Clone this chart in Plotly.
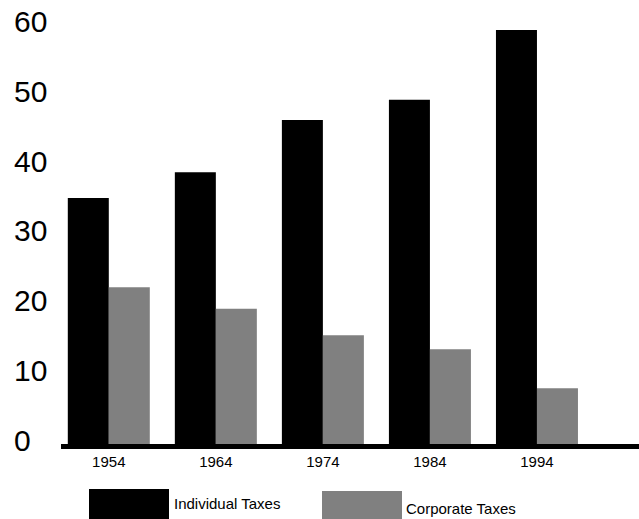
import plotly.graph_objects as go

# Tax receipts by decade (percent of federal revenue)
years = ["1954", "1964", "1974", "1984", "1994"]
individual_taxes = [35.3, 39.0, 46.5, 49.4, 59.4]
corporate_taxes = [22.5, 19.4, 15.6, 13.6, 8.0]
y_ticks = [0, 10, 20, 30, 40, 50, 60]

W, H = 639, 519
L, T, B = 61, 0, 75
plot_w = W - L
plot_h = H - T - B

FONT = "Liberation Sans, Arial, Helvetica, sans-serif"


def px_x(px):
    return (px - L) / plot_w


def px_y(py):
    return (T + plot_h - py) / plot_h


positions = list(range(len(years)))

fig = go.Figure()
fig.add_trace(go.Bar(x=positions, y=individual_taxes, name="Individual Taxes",
                     marker=dict(color="#000000", line=dict(width=0))))
fig.add_trace(go.Bar(x=positions, y=corporate_taxes, name="Corporate Taxes",
                     marker=dict(color="#808080", line=dict(width=0))))

# Left-aligned value labels for the y axis
annotations = []
for v in y_ticks:
    annotations.append(dict(
        x=px_x(12), xref="paper", xanchor="left",
        y=v, yref="y", yanchor="middle", yshift=4,
        text=str(v), showarrow=False,
        font=dict(family=FONT, size=30, color="#000000")))

# Legend drawn as swatches with captions below the axis
shapes = [
    dict(type="rect", xref="paper", yref="paper",
         x0=px_x(89), x1=px_x(169), y0=px_y(519), y1=px_y(489),
         fillcolor="#000000", line=dict(width=0)),
    dict(type="rect", xref="paper", yref="paper",
         x0=px_x(322), x1=px_x(402), y0=px_y(519), y1=px_y(491),
         fillcolor="#808080", line=dict(width=0)),
]
annotations.append(dict(x=px_x(172), xref="paper", xanchor="left",
                        y=px_y(503.5), yref="paper", yanchor="middle",
                        text="Individual Taxes", showarrow=False,
                        font=dict(family=FONT, size=15, color="#000000")))
annotations.append(dict(x=px_x(404), xref="paper", xanchor="left",
                        y=px_y(508.5), yref="paper", yanchor="middle",
                        text="Corporate Taxes", showarrow=False,
                        font=dict(family=FONT, size=15, color="#000000")))

x0_px, step_px = 108.8, 107.04
fig.update_layout(
    width=W, height=H,
    margin=dict(l=L, r=0, t=T, b=B, pad=0),
    paper_bgcolor="white", plot_bgcolor="white",
    barmode="group", bargap=0.234, bargroupgap=0,
    showlegend=False,
    xaxis=dict(range=[(L - x0_px) / step_px, (W - x0_px) / step_px],
               tickvals=positions, ticktext=years,
               showgrid=False, zeroline=False,
               showline=True, linecolor="#000000", linewidth=5,
               ticks="", tickfont=dict(family=FONT, size=15, color="#000000")),
    yaxis=dict(range=[0, plot_h / 6.97], showgrid=False, zeroline=False,
               showline=False, showticklabels=False, ticks=""),
    annotations=annotations,
    shapes=shapes,
)

fig.write_html("out.html")
